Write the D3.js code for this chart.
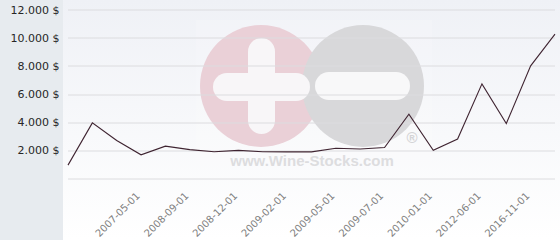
<!DOCTYPE html>
<html>
<head>
<meta charset="utf-8">
<script src="https://cdn.jsdelivr.net/npm/d3@7"></script>
<style>
  html, body { margin: 0; padding: 0; background: #ffffff; }
  svg { display: block; }
</style>
</head>
<body>
<div id="chart"></div>
<script>
// Chart data
var dates = ["2006-11-01", "2007-02-01", "2007-03-01", "2007-05-01", "2008-05-01",
             "2008-09-01", "2008-10-01", "2008-12-01", "2009-01-01", "2009-02-01",
             "2009-04-01", "2009-05-01", "2009-06-01", "2009-07-01", "2009-10-01",
             "2010-01-01", "2011-06-01", "2012-06-01", "2014-01-01", "2016-11-01",
             "2018-01-01"];
var prices = [950, 3950, 2700, 1680, 2300,
              2050, 1900, 2000, 1900, 1890,
              1890, 2150, 2100, 2200, 4560,
              2000, 2800, 6720, 3900, 8000,
              10250];
var yTicks = [2000, 4000, 6000, 8000, 10000, 12000];
// every second date gets a label on the axis
var shownDates = ["2007-05-01", "2008-09-01", "2008-12-01", "2009-02-01", "2009-05-01",
                  "2009-07-01", "2010-01-01", "2012-06-01", "2016-11-01"];

var svgWidth = 560;
var svgHeight = 240;

var margin = { top: 9.5, right: 5, bottom: 61.5, left: 68 };
var width = svgWidth - margin.left - margin.right;
var height = svgHeight - margin.top - margin.bottom;

var svg = d3.select("#chart")
    .append("svg")
    .attr("width", svgWidth)
    .attr("height", svgHeight);

// Background gradient of the plot side
var defs = svg.append("defs");
var grad = defs.append("linearGradient")
    .attr("id", "bgGrad")
    .attr("x1", 0).attr("y1", 0).attr("x2", 0).attr("y2", 1);
grad.append("stop").attr("offset", "0%").attr("stop-color", "#eff1f6");
grad.append("stop").attr("offset", "100%").attr("stop-color", "#ffffff");

svg.append("rect")
    .attr("x", 63).attr("y", 0)
    .attr("width", svgWidth - 63).attr("height", svgHeight)
    .attr("fill", "url(#bgGrad)");

// Left panel behind the value labels
svg.append("rect")
    .attr("x", 0).attr("y", 0)
    .attr("width", 63).attr("height", svgHeight)
    .attr("fill", "#e7ebef");

// Watermark (drawn under grid and line)
var mark = svg.append("g").attr("class", "watermark");
mark.append("rect")
    .attr("x", 196).attr("y", 20).attr("width", 236).attr("height", 156)
    .attr("fill", "#ffffff").attr("opacity", 0.15);
mark.append("circle")
    .attr("cx", 261).attr("cy", 86).attr("r", 61)
    .attr("fill", "#ead0d7");
mark.append("circle")
    .attr("cx", 363).attr("cy", 86).attr("r", 61)
    .attr("fill", "#d8d8da");
mark.append("rect")
    .attr("x", 248).attr("y", 38).attr("width", 27).attr("height", 96).attr("rx", 13.5)
    .attr("fill", "#f8f6f8");
mark.append("rect")
    .attr("x", 213).attr("y", 73).attr("width", 97).attr("height", 28).attr("rx", 14)
    .attr("fill", "#f8f6f8");
mark.append("rect")
    .attr("x", 315).attr("y", 72).attr("width", 95).attr("height", 28).attr("rx", 14)
    .attr("fill", "#f8f8f9");
mark.append("text")
    .attr("x", 312).attr("y", 166)
    .attr("text-anchor", "middle")
    .attr("font-family", "Liberation Sans, Arial, sans-serif")
    .attr("font-weight", "bold")
    .attr("font-size", "15px")
    .attr("fill", "#dddddf")
    .text("www.Wine-Stocks.com");
mark.append("text")
    .attr("x", 412).attr("y", 143)
    .attr("text-anchor", "middle")
    .attr("font-family", "Liberation Sans, Arial, sans-serif")
    .attr("font-weight", "bold")
    .attr("font-size", "15px")
    .attr("fill", "#d4d4d6")
    .text("®");

var chartGroup = svg.append("g")
    .attr("transform", `translate(${margin.left}, ${margin.top})`);

// Scales
var xScale = d3.scalePoint()
    .domain(dates)
    .range([0, width]);

var yScale = d3.scaleLinear()
    .domain([0, 12000])
    .range([height, 0]);

// Horizontal grid lines (0 included)
chartGroup.append("g")
    .selectAll("line")
    .data([0].concat(yTicks))
    .enter()
    .append("line")
    .attr("x1", 0)
    .attr("x2", width)
    .attr("y1", d => Math.round(yScale(d)) + 0.5)
    .attr("y2", d => Math.round(yScale(d)) + 0.5)
    .attr("stroke", "#dcdcdf")
    .attr("stroke-width", 1);

// Y axis labels
var fmt = d => d3.format(",")(d).replace(/,/g, ".") + " $";
var leftAxis = d3.axisLeft(yScale)
    .tickValues(yTicks)
    .tickFormat(fmt)
    .tickSize(0)
    .tickPadding(0);

var yAxis = svg.append("g")
    .attr("transform", `translate(59.5, ${margin.top})`)
    .call(leftAxis);
yAxis.select(".domain").remove();
yAxis.selectAll("text")
    .attr("font-family", "DejaVu Sans, sans-serif")
    .attr("font-size", "11px")
    .attr("fill", "#262626");

// X axis labels, rotated -45deg
var bottomAxis = d3.axisBottom(xScale)
    .tickValues(shownDates)
    .tickSize(0);

var xAxis = chartGroup.append("g")
    .attr("transform", `translate(0, ${height})`)
    .call(bottomAxis);
xAxis.select(".domain").remove();
xAxis.selectAll("text")
    .attr("font-family", "DejaVu Sans, sans-serif")
    .attr("font-size", "10px")
    .attr("fill", "#808080")
    .attr("text-anchor", "end")
    .attr("dy", null)
    .attr("y", 0)
    .attr("transform", "translate(-1, 18) rotate(-45)");

// Price line
var line = d3.line()
    .x((d, i) => xScale(dates[i]))
    .y(d => yScale(d));

chartGroup.append("path")
    .datum(prices)
    .attr("d", line)
    .attr("fill", "none")
    .attr("stroke", "#3f2431")
    .attr("stroke-width", 1.1);
</script>
</body>
</html>
